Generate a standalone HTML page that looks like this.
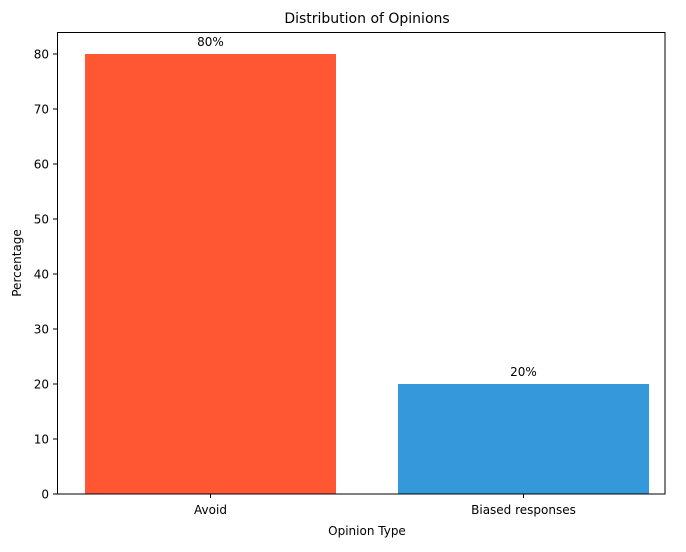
<!DOCTYPE html>
<html><head><meta charset="utf-8"><style>
body{margin:0;background:#fff;font-family:"Liberation Sans","DejaVu Sans",sans-serif}
</style></head><body>
<svg id="chart" width="686" height="547" xmlns="http://www.w3.org/2000/svg" font-family="DejaVu Sans, Liberation Sans, sans-serif">
<text x="367" y="23" text-anchor="middle" font-size="14">Distribution of Opinions</text>
<text x="367" y="535" text-anchor="middle" font-size="12">Opinion Type</text>
<text transform="translate(21,263) rotate(-90)" text-anchor="middle" font-size="12">Percentage</text>
<g id="bars"></g><g id="ticks"></g>
<rect x="57.5" y="32.5" width="607.5" height="461.5" fill="none" stroke="#000" stroke-width="1"/>
</svg>
<script>
const categories=["Avoid","Biased responses"];
const values=[80,20];
const labels=["80%","20%"];
const colors=["#FF5733","#3498DB"];
const yTicks=[0,10,20,30,40,50,60,70,80];
const NS="http://www.w3.org/2000/svg";
const y0=494,ppu=5.5,x0=210.5,step=313,bw=251;
const ys=v=>y0-v*ppu, xs=i=>x0+i*step;
const bars=document.getElementById('bars'),ticks=document.getElementById('ticks');
function mk(t,a,p){const e=document.createElementNS(NS,t);for(const k in a)e.setAttribute(k,a[k]);p.appendChild(e);return e;}
categories.forEach((c,i)=>{
 const r=mk('rect',{x:xs(i)-bw/2,y:ys(values[i]),width:bw,height:values[i]*ppu,fill:colors[i]},bars);
 
 
 const t=mk('text',{x:xs(i),y:ys(values[i])-8,'text-anchor':'middle','font-size':12},bars);t.textContent=labels[i];
 
 
 mk('line',{x1:xs(i),x2:xs(i),y1:494,y2:498,stroke:'#000'},ticks);
 const xl=mk('text',{x:xs(i),y:514,'text-anchor':'middle','font-size':12},ticks);xl.textContent=c;
 
 
});
yTicks.forEach(v=>{
 mk('line',{x1:53,x2:57.5,y1:ys(v),y2:ys(v),stroke:'#000'},ticks);
 const t=mk('text',{x:49,y:ys(v)+4.5,'text-anchor':'end','font-size':12},ticks);t.textContent=v;
 
 
});
</script>
</body></html>
